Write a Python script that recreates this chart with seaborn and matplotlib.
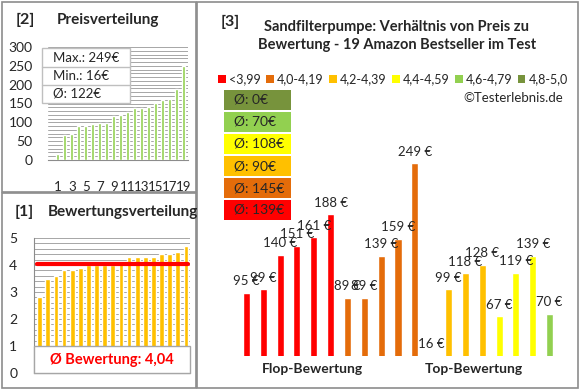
import numpy as np
import pandas as pd
import seaborn as sns
import matplotlib.pyplot as plt
from matplotlib.patches import Rectangle, Patch
from matplotlib.lines import Line2D

# Daten
preise_sortiert = [16, 67, 70, 89, 89, 95, 99, 99, 118, 119, 128, 139, 139, 140, 151, 159, 161, 188, 249]
bewertungen_sortiert = [2.8, 3.5, 3.6, 3.8, 3.8, 3.9, 4.0, 4.0, 4.0, 4.0, 4.1,
                        4.3, 4.3, 4.3, 4.3, 4.4, 4.4, 4.5, 4.7]
bewertung_schnitt = 4.04

# Panel 3: Preise nach Bewertungsgruppe
gruppen = ["<3,99", "4,0-4,19", "4,2-4,39", "4,4-4,59", "4,6-4,79", "4,8-5,0"]
farben = ["#FF0000", "#E46C0A", "#FFC000", "#FFFF00", "#92D050", "#77933C"]
preise_gruppe = [
    [95, 99, 140, 151, 161, 188],
    [89, 89, 139, 159, 249],
    [16, 99, 118, 128],
    [67, 119, 139],
    [70],
    [],
]
kategorien = ["Flop-Bewertung", "Top-Bewertung"]
kategorie_pos = [3.9, 13.5]

sns.set_style("white")
plt.rcParams['font.family'] = ['Lato', 'DejaVu Sans']

W, H = 580, 390
fig = plt.figure(figsize=(W / 100, H / 100), dpi=100)
grau = "#8C8C8C"
gitter = "#A6A6A6"


def achse(x0, y0, x1, y1):
    return fig.add_axes([x0 / W, 1 - y1 / H, (x1 - x0) / W, (y1 - y0) / H])


def rahmen(x0, y0, x1, y1, **kw):
    r = Rectangle((x0 / W, 1 - y1 / H), (x1 - x0) / W, (y1 - y0) / H,
                  transform=fig.transFigure, **kw)
    fig.add_artist(r)


def txt(x, y, s, **kw):
    fig.text(x / W, 1 - y / H, s, **kw)


# Panelrahmen
rahmen(2, 2, 196, 192, fill=False, edgecolor=grau, lw=1.2)
rahmen(2, 193, 196, 388, fill=False, edgecolor=grau, lw=1.2)
rahmen(197, 2, 578, 388, fill=False, edgecolor=grau, lw=1.2)

# ---------- [2] Preisverteilung ----------
txt(16, 20, "[2]", fontsize=11.5, fontweight="bold", va="center")
txt(57, 20, "Preisverteilung", fontsize=11, fontweight="bold", va="center")

ax2 = achse(48, 47, 188, 160)
df2 = pd.DataFrame({"nr": range(len(preise_sortiert)), "preis": preise_sortiert})
sns.barplot(data=df2, x="nr", y="preis", color="#92D050", width=0.45,
            saturation=1, ax=ax2, zorder=3)
ax2.set_xlim(-1.4, 18.6)
ax2.set_ylim(0, 300)
ax2.set_yticks(np.arange(0, 301, 50))
ax2.set_yticks(np.arange(0, 301, 10), minor=True)
ax2.grid(axis="y", which="both", color=gitter, lw=0.7, zorder=0)
ax2.set_xticks(range(0, 19, 2))
ax2.set_xticklabels([str(i + 1) for i in range(0, 19, 2)])
ax2.tick_params(axis="x", length=0, pad=15, labelsize=9.5)
ax2.tick_params(axis="y", which="both", length=0, pad=11, labelsize=10)
ax2.set_xlabel("")
ax2.set_ylabel("")
for s in ["top", "right", "left"]:
    ax2.spines[s].set_visible(False)
ax2.spines["bottom"].set_color(grau)

# Statistikbox
rahmen(42, 48, 130, 103, facecolor="white", edgecolor="#BFBFBF", lw=1, zorder=5)
for yy in [67, 85]:
    fig.add_artist(Line2D([42 / W, 130 / W], [1 - yy / H, 1 - yy / H],
                          transform=fig.transFigure, color="#BFBFBF", lw=1, zorder=6))
statistik = [f"Max.: {max(preise_sortiert)}€", f"Min.: {min(preise_sortiert)}€",
             f"Ø: {round(np.mean(preise_sortiert))}€"]
for yy, s in zip([58, 76, 94], statistik):
    txt(53, yy, s, fontsize=9.5, va="center", zorder=7)

# ---------- [1] Bewertungsverteilung ----------
txt(15, 212, "[1]", fontsize=11.5, fontweight="bold", va="center")
txt(48, 212, "Bewertungsverteilung", fontsize=11, fontweight="bold", va="center")

ax1 = achse(34, 238, 190, 373)
df1 = pd.DataFrame({"nr": range(len(bewertungen_sortiert)), "bewertung": bewertungen_sortiert})
sns.barplot(data=df1, x="nr", y="bewertung", color="#FFC000", width=0.58,
            saturation=1, ax=ax1, zorder=3)
ax1.axhline(bewertung_schnitt, xmin=0.02, xmax=0.99, color="#FF0000", lw=3, zorder=4)
ax1.set_xlim(-0.7, 18.5)
ax1.set_ylim(0, 5)
ax1.set_yticks(range(0, 6))
ax1.set_yticks(np.arange(0, 5.01, 0.2), minor=True)
ax1.grid(axis="y", which="both", color=gitter, lw=0.7, zorder=0)
ax1.set_xticks([])
ax1.tick_params(axis="y", which="major", length=4, color=grau, pad=8, labelsize=10)
ax1.tick_params(axis="y", which="minor", length=0)
ax1.set_xlabel("")
ax1.set_ylabel("")
for s in ["top", "right"]:
    ax1.spines[s].set_visible(False)
ax1.spines["left"].set_color(grau)
ax1.spines["bottom"].set_color(grau)

rahmen(34, 346, 190, 373, facecolor="white", edgecolor="#A6A6A6", lw=1, zorder=5)
txt(112, 360, "Ø Bewertung: " + f"{bewertung_schnitt:.2f}".replace(".", ","),
    fontsize=10.5, fontweight="bold", color="#FF0000", ha="center", va="center", zorder=6)

# ---------- [3] Preis vs. Bewertung ----------
txt(221, 22, "[3]", fontsize=11.5, fontweight="bold", va="center")
txt(397, 36, "Sandfilterpumpe: Verhältnis von Preis zu\nBewertung - 19 Amazon Bestseller im Test",
    fontsize=10.5, fontweight="bold", ha="center", va="center", linespacing=1.3)

zeilen = []
for g, f, werte in zip(gruppen, farben, preise_gruppe):
    for w in werte:
        zeilen.append({"gruppe": g, "preis": w})
df3 = pd.DataFrame(zeilen)
df3["nr"] = range(len(df3))

ax3 = achse(238, 137, 558, 356)
sns.barplot(data=df3, x="nr", y="preis", hue="gruppe", hue_order=gruppen,
            palette=farben, width=0.42, dodge=False, saturation=1,
            legend=False, ax=ax3)
ax3.set_xlim(-0.5, 18.5)
ax3.set_ylim(20, 280)
for _, r in df3.iterrows():
    ax3.annotate(f"{r['preis']} €", (r["nr"], max(r["preis"], 20)),
                 xytext=(0, 4), textcoords="offset points",
                 ha="center", va="bottom", fontsize=9.5, annotation_clip=False)
ax3.set_xticks(kategorie_pos)
ax3.set_xticklabels(kategorien, fontweight="bold", fontsize=10)
ax3.tick_params(axis="x", length=0, pad=5)
ax3.set_yticks([])
ax3.set_xlabel("")
ax3.set_ylabel("")
for s in ax3.spines.values():
    s.set_visible(False)

handles = [Patch(facecolor=f, edgecolor="none") for f in farben]
fig.legend(handles, gruppen, loc="center", bbox_to_anchor=(393 / W, 1 - 79 / H),
           ncol=6, frameon=False, fontsize=9, handlelength=0.6, handleheight=0.6,
           handletextpad=0.25, columnspacing=0.45, borderpad=0, borderaxespad=0)
txt(563, 98, "©Testerlebnis.de", fontsize=9.5, ha="right", va="center")

# Durchschnittsboxen (von oben: beste Gruppe)
box_y = [90, 112, 134, 156, 178, 200]
for yy, f, werte in zip(box_y, farben[::-1], preise_gruppe[::-1]):
    schnitt = round(np.mean(werte)) if werte else 0
    rahmen(224, yy, 291, yy + 20, facecolor=f, edgecolor="none")
    txt(234, yy + 10, f"Ø: {schnitt}€", fontsize=10, va="center")

fig.savefig("out.png", dpi=100)
